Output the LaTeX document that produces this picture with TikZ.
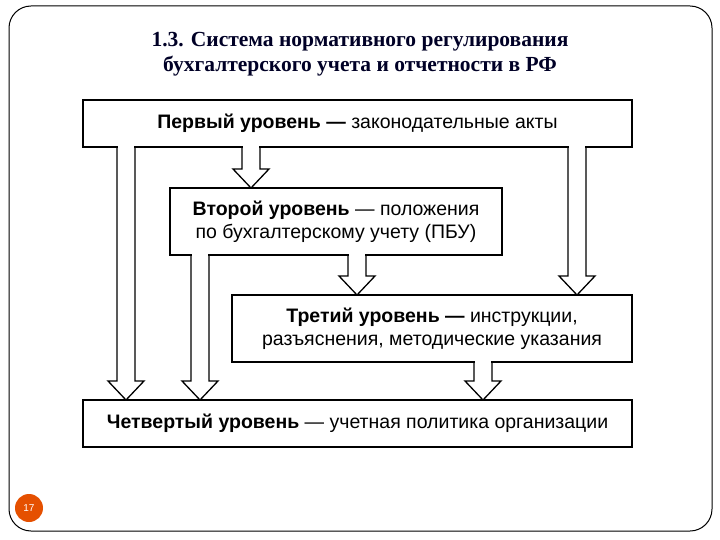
\documentclass[tikz,border=0pt]{standalone}
\usepackage{fontspec}
\setmainfont{Liberation Serif}
\newfontfamily\arial{Liberation Sans}
\begin{document}
\begin{tikzpicture}[x=1pt,y=-1pt,
  lvl/.style={draw=black,line width=1.8pt,fill=white,inner sep=0pt,font=\arial\fontsize{19.5}{23}\selectfont,align=center},
  harr/.style={line width=1.3pt,line join=miter}]
\useasboundingbox (0,0) rectangle (720,540);
\draw[line width=1pt,rounded corners=22pt] (9,6) rectangle (712,531);
\node[font=\bfseries\fontsize{21.5}{25}\selectfont,text=black!85!blue,align=center] (title) at (360,54)
 {1.3. Система нормативного регулирования\\бухгалтерского учета и отчетности в РФ};
\node[lvl,minimum width=549pt,minimum height=47pt] (b1) at (357.5,123.5) {\textbf{Первый уровень —} законодательные акты};
\node[lvl,minimum width=332pt,minimum height=67pt] (b2) at (336,221.5) {\textbf{Второй уровень} — положения\\по бухгалтерскому учету (ПБУ)};
\node[lvl,minimum width=400pt,minimum height=67pt] (b3) at (432,328.5) {\textbf{Третий уровень —} инструкции,\\разъяснения, методические указания};
\node[lvl,minimum width=549pt,minimum height=47pt] (b4) at (357.5,423.5) {\textbf{Четвертый уровень} — учетная политика организации};
\newcommand{\harrow}[3]{%
 \fill[white] (#1-8.4,#2-1.5) rectangle (#1+8.4,#3-19);
 \fill[white] (#1-17,#3-19)--(#1,#3)--(#1+17,#3-19)--cycle;
 \draw[harr] (#1-9,#2)--(#1-9,#3-19)--(#1-18,#3-19)--(#1,#3)--(#1+18,#3-19)--(#1+9,#3-19)--(#1+9,#2);}
\harrow{251}{147}{188}
\harrow{126}{147}{400}
\harrow{577}{147}{295}
\harrow{357}{255}{295}
\harrow{200}{255}{400}
\harrow{483}{362}{400}
\node[circle,fill=orange!70!red!90!black,minimum size=28pt,inner sep=0pt,text=white,font=\arial\fontsize{10}{12}\selectfont] (pg) at (29,508) {17};
\end{tikzpicture}
\end{document}
